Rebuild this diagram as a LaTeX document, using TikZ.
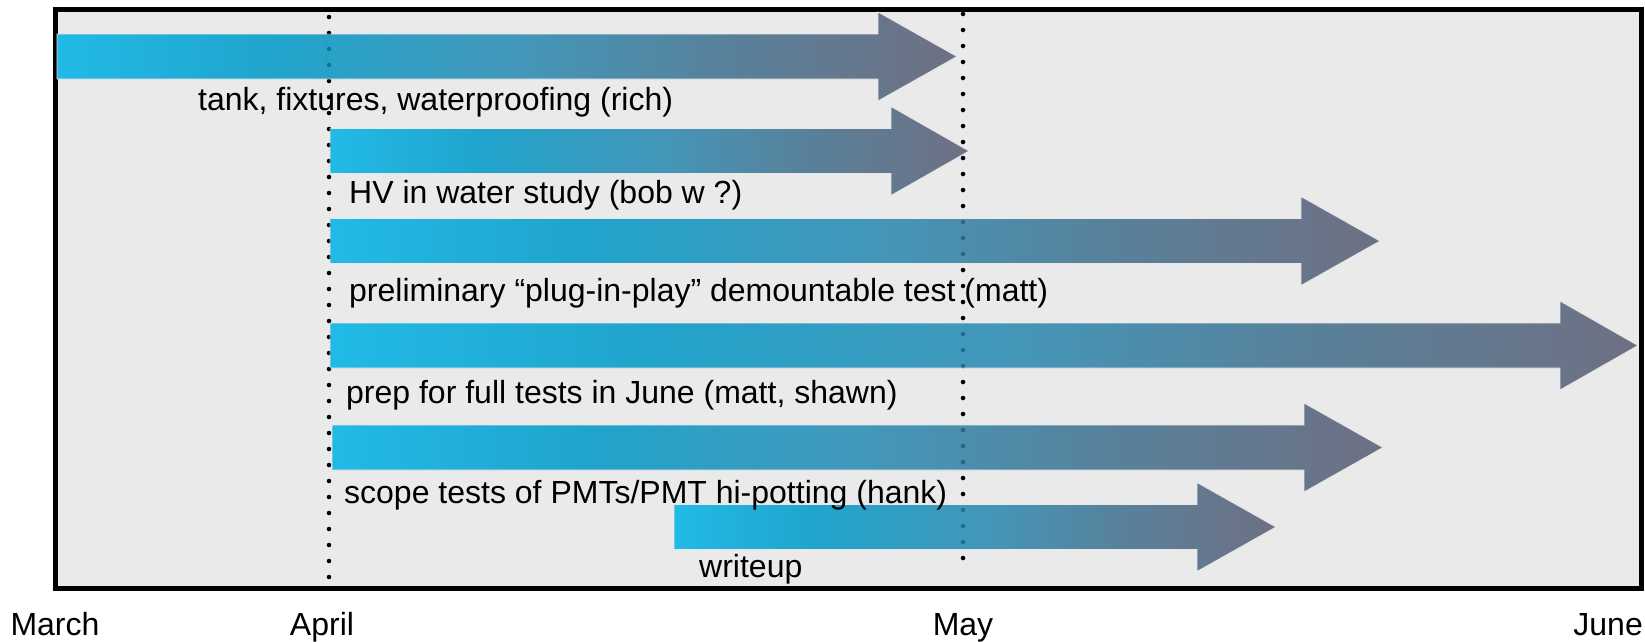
\documentclass[tikz,border=0pt]{standalone}
\usepackage{fontspec}
\setmainfont{Liberation Sans}
\definecolor{panel}{RGB}{234,234,234}
\definecolor{ga}{RGB}{33,186,230}
\definecolor{gb}{RGB}{32,164,204}
\definecolor{gc}{RGB}{66,152,187}
\definecolor{gd}{RGB}{88,129,155}
\definecolor{ge}{RGB}{110,112,131}
\pgfdeclarehorizontalshading{arrowgrad}{100bp}{color(0bp)=(ga); color(25bp)=(ga); color(37bp)=(gb); color(50bp)=(gc); color(62bp)=(gd); color(75bp)=(ge); color(100bp)=(ge)}
\newcommand{\garrow}[5]{%
  \path[arrowbody] ({#1},{#2-22.5}) -- ({#3},{#2-22.5}) -- ({#3},{#2-44.5}) -- ({#4},{#2}) -- ({#3},{#2+44.5}) -- ({#3},{#2+22.5}) -- ({#1},{#2+22.5}) -- cycle;
  \coordinate (#5) at ({#4},{#2});}
\tikzset{
  arrowbody/.style={shading=arrowgrad, draw=white!82!gray, line width=0.8pt},
  monthdots/.style={line width=4.5pt, line cap=round, dash pattern=on 0pt off 16pt},
  lbl/.style={anchor=base west, inner sep=0pt, font=\fontsize{32}{38}\selectfont},
  month/.style={anchor=base, inner sep=0pt, font=\fontsize{32}{38}\selectfont},
}
\begin{document}
\begin{tikzpicture}[x=1pt,y=-1pt]
\useasboundingbox (0,0) rectangle (1645,641);
\fill[white] (0,0) rectangle (1645,641);
\draw[line width=5pt, fill=panel] (55.5,9.7) rectangle (1641,588);
% dotted month lines (behind)
\draw[monthdots] (329,17) -- (329,577);
\draw[monthdots] (963,14) -- (963,574);
% arrows
\garrow{57}{56.5}{878}{957}{t1}
\garrow{330}{151}{891}{969}{t2}
\garrow{330}{241}{1301}{1380}{t3}
\garrow{330}{345.5}{1560}{1638}{t4}
\garrow{332}{447.5}{1304}{1383}{t5}
\garrow{674}{527}{1197}{1276}{t6}
% dotted lines seen through arrows
\draw[monthdots, draw opacity=0.3] (329,17) -- (329,577);
\draw[monthdots, draw opacity=0.3] (963,14) -- (963,574);
% labels
\node[lbl] (l1) at (198,110) {tank, fixtures, waterproofing (rich)};
\node[lbl] (l2) at (349,203.5) {HV in water study (bob w ?)};
\node[lbl] (l3) at (349,301) {preliminary “plug-in-play” demountable test (matt)};
\node[lbl] (l4) at (346,403) {prep for full tests in June (matt, shawn)};
\node[lbl] (l5) at (344,503) {scope tests of PMTs/PMT hi-potting (hank)};
\node[lbl] (l6) at (699,577) {writeup};
% months
\node[month] (mar) at (55,635) {March};
\node[month] (apr) at (322,635) {April};
\node[month] (may) at (963,635) {May};
\node[month, anchor=base east] (jun) at (1643,635) {June};
\end{tikzpicture}
\end{document}
